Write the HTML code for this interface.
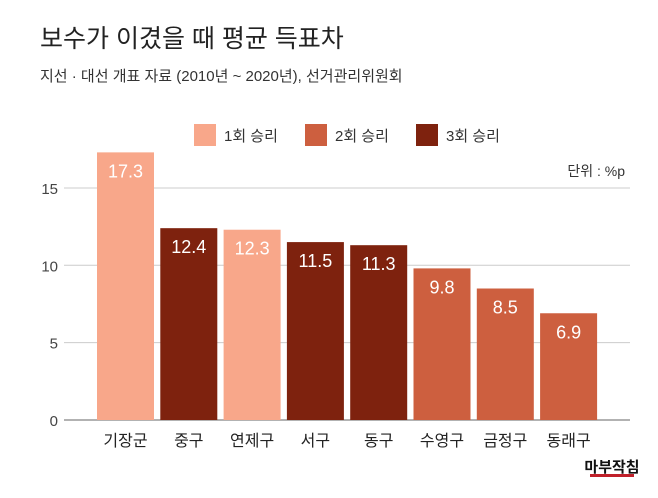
<!DOCTYPE html>
<html><head><meta charset="utf-8"><style>
body{margin:0;background:#fff;}
svg text{font-family:"Liberation Sans","Noto Sans CJK KR",sans-serif;}
</style></head><body>
<svg width="658" height="493" viewBox="0 0 658 493" id="chart">
<text x="40" y="47" font-size="25" fill="#222">보수가 이겼을 때 평균 득표차</text>
<text x="40" y="81" font-size="15" fill="#333">지선 · 대선 개표 자료 (2010년 ~ 2020년), 선거관리위원회</text>
<g>
<rect x="194" y="124" width="22" height="22" fill="#F8A78A"/>
<text x="224" y="141" font-size="15" fill="#333">1회 승리</text>
<rect x="305" y="124" width="22" height="22" fill="#CD5F3F"/>
<text x="335" y="141" font-size="15" fill="#333">2회 승리</text>
<rect x="416" y="124" width="22" height="22" fill="#7E220E"/>
<text x="446" y="141" font-size="15" fill="#333">3회 승리</text>
</g>
<text x="625" y="176" font-size="14" fill="#333" text-anchor="end">단위 : %p</text>
<g id="grid"></g><g id="bars"></g>
<text x="612" y="472" font-size="15" font-weight="bold" fill="#111" text-anchor="middle">마부작침</text>
<rect x="590" y="474" width="44" height="3" fill="#c0202a"/>
</svg>
<script>
const categories=["기장군","중구","연제구","서구","동구","수영구","금정구","동래구"];
const values=[17.3,12.4,12.3,11.5,11.3,9.8,8.5,6.9];
const wins=[1,3,1,3,3,2,2,2];
const yTicks=[0,5,10,15];
const colors={1:"#F8A78A",2:"#CD5F3F",3:"#7E220E"};
const NS="http://www.w3.org/2000/svg";
const y=v=>420-v*15.47;
const x=i=>97+i*63.3;
const bw=57;
function mk(t,a,p){const e=document.createElementNS(NS,t);for(const k in a)e.setAttribute(k,a[k]);p.appendChild(e);return e;}
const grid=document.getElementById('grid'),bars=document.getElementById('bars');
yTicks.forEach(t=>{
 const l=mk('line',{x1:64,x2:630,y1:y(t),y2:y(t),stroke:t===0?'#999':'#ccc','stroke-width':t===0?1.5:1},grid);
 
 
 const tx=mk('text',{x:58,y:y(t)+6,'font-size':15,fill:'#444','text-anchor':'end'},grid);
 tx.textContent=t;
 
 
});
categories.forEach((c,i)=>{
 const r=mk('rect',{x:x(i),y:y(values[i]),width:bw,height:420-y(values[i]),fill:colors[wins[i]]},bars);
 
 
 const v=mk('text',{x:x(i)+bw/2,y:y(values[i])+25,'font-size':18,fill:'#fff','text-anchor':'middle'},bars);
 v.textContent=values[i];
 
 
 const l=mk('text',{x:x(i)+bw/2,y:446,'font-size':16,fill:'#222','text-anchor':'middle'},bars);
 l.textContent=c;
 
 
});
</script>
</body></html>
